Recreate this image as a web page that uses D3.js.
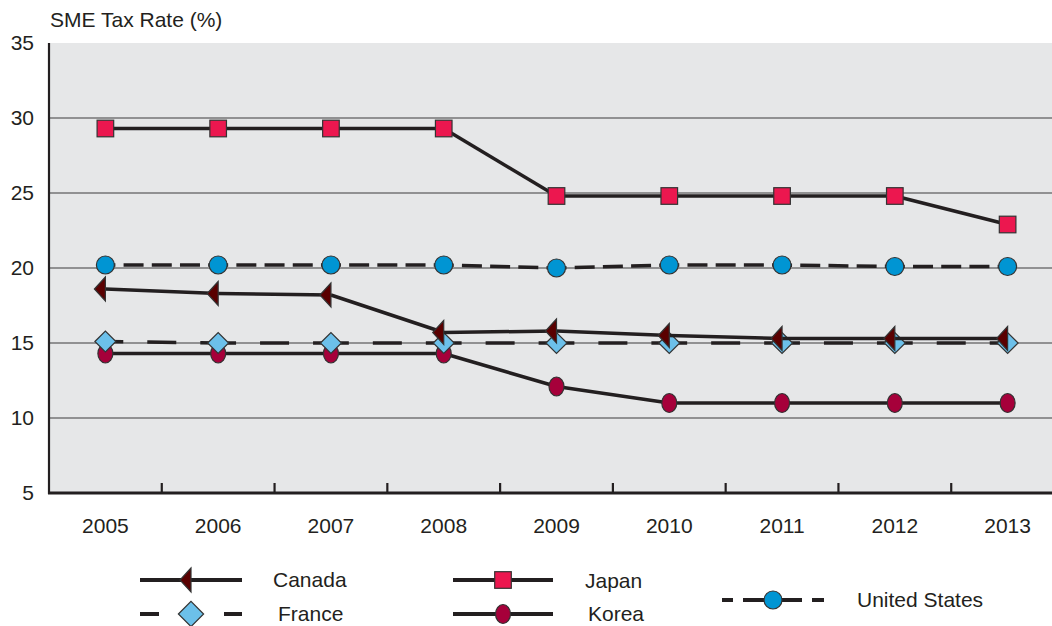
<!DOCTYPE html>
<html>
<head>
<meta charset="utf-8">
<script src="https://cdn.jsdelivr.net/npm/d3@7"></script>
<style>
  html, body { margin: 0; padding: 0; background: #ffffff; }
  svg { display: block; font-family: "Liberation Sans", Arial, sans-serif; }
</style>
</head>
<body>
<svg id="chart" width="1052" height="626"></svg>
<script>
// Small-business (SME) corporate tax rates, per cent
const years = ["2005", "2006", "2007", "2008", "2009", "2010", "2011", "2012", "2013"];
const canada = [18.6, 18.3, 18.2, 15.7, 15.8, 15.5, 15.3, 15.3, 15.3];
const france = [15.1, 15.0, 15.0, 15.0, 15.0, 15.0, 15.0, 15.0, 15.0];
const japan = [29.3, 29.3, 29.3, 29.3, 24.8, 24.8, 24.8, 24.8, 22.9];
const korea = [14.3, 14.3, 14.3, 14.3, 12.1, 11.0, 11.0, 11.0, 11.0];
const unitedStates = [20.2, 20.2, 20.2, 20.2, 20.0, 20.2, 20.2, 20.1, 20.1];
const yTicks = [5, 10, 15, 20, 25, 30, 35];
const gridValues = [10, 15, 20, 25, 30];
const yTitle = "SME Tax Rate (%)";

const INK = "#231f20";
const EDGE = "#333333";
const FONT_SIZE = 21;

const series = [
  { name: "United States", values: unitedStates, dash: [20, 8.2], shape: "circle", fill: "#0095d3" },
  { name: "Japan", values: japan, dash: null, shape: "square", fill: "#ec174f" },
  { name: "Korea", values: korea, dash: null, shape: "ellipse", fill: "#a6003a" },
  { name: "France", values: france, dash: [29, 24], shape: "diamond", fill: "#6cc0ea" },
  { name: "Canada", values: canada, dash: null, shape: "triangle", fill: "#5a0000" }
];

const svg = d3.select("#chart");
const plot = { left: 49, top: 43, right: 1052, bottom: 493 };

const x = d3.scaleBand().domain(years).range([49, 1064]).padding(0);
const y = d3.scaleLinear().domain([5, 35]).range([plot.bottom, plot.top]);
const cx = d => x(d) + x.bandwidth() / 2;

// plot background
svg.append("rect")
  .attr("x", plot.left).attr("y", plot.top)
  .attr("width", plot.right - plot.left).attr("height", plot.bottom - plot.top)
  .attr("fill", "#e6e7e8");

// horizontal gridlines
svg.append("g").selectAll("line").data(gridValues).join("line")
  .attr("x1", plot.left).attr("x2", plot.right)
  .attr("y1", d => y(d)).attr("y2", d => y(d))
  .attr("stroke", "#3c3c3c").attr("stroke-width", 1.1);

// y axis (labels only, line drawn below)
const yAxis = d3.axisLeft(y).tickValues(yTicks).tickSize(0).tickPadding(15).tickFormat(d3.format("d"));
const gy = svg.append("g").attr("transform", `translate(${plot.left},0)`).call(yAxis);
gy.select(".domain").remove();
gy.selectAll("text").attr("font-size", FONT_SIZE).attr("fill", INK)
  .attr("font-family", "Liberation Sans, Arial, sans-serif");

// x axis: labels centred in bands, ticks at band boundaries pointing up
const xAxis = d3.axisBottom(x).tickSize(0).tickPadding(25);
const gx = svg.append("g").attr("transform", `translate(0,${plot.bottom})`).call(xAxis);
gx.select(".domain").remove();
gx.selectAll("text").attr("font-size", FONT_SIZE).attr("fill", INK)
  .attr("font-family", "Liberation Sans, Arial, sans-serif");

svg.append("g").selectAll("line").data(years.slice(1)).join("line")
  .attr("x1", d => x(d)).attr("x2", d => x(d))
  .attr("y1", plot.bottom).attr("y2", plot.bottom - 10)
  .attr("stroke", INK).attr("stroke-width", 2.2);

svg.append("line")
  .attr("x1", plot.left).attr("x2", plot.left)
  .attr("y1", plot.top).attr("y2", plot.bottom + 1)
  .attr("stroke", INK).attr("stroke-width", 2.2);
svg.append("line")
  .attr("x1", plot.left - 1).attr("x2", plot.right)
  .attr("y1", plot.bottom).attr("y2", plot.bottom)
  .attr("stroke", INK).attr("stroke-width", 3);

// y title
svg.append("text").attr("x", 50).attr("y", 27)
  .attr("font-size", FONT_SIZE).attr("fill", INK).text(yTitle);

// marker drawing
function drawMarker(g, shape, px, py, fill, scale) {
  const s = scale || 1;
  let el;
  if (shape === "circle") {
    el = g.append("circle").attr("cx", px).attr("cy", py).attr("r", 9 * s);
  } else if (shape === "square") {
    const h = 8.3 * s;
    el = g.append("rect").attr("x", px - h).attr("y", py - h).attr("width", 2 * h).attr("height", 2 * h);
  } else if (shape === "ellipse") {
    el = g.append("ellipse").attr("cx", px).attr("cy", py).attr("rx", 7.5 * s).attr("ry", 9.5 * s);
  } else if (shape === "diamond") {
    const w = 10.5 * s, h = 10.5 * s;
    el = g.append("path").attr("d", `M${px - w},${py}L${px},${py - h}L${px + w},${py}L${px},${py + h}Z`);
  } else if (shape === "triangle") {
    const w = 11 * s, h = 12 * s;
    el = g.append("path").attr("d", `M${px},${py - h}L${px - w},${py}L${px},${py + h}Z`);
  }
  el.attr("fill", fill).attr("stroke", EDGE).attr("stroke-width", 1.2);
  return el;
}

// each series: connecting segments (dash pattern centred per segment) then markers
series.forEach(s => {
  const g = svg.append("g");
  const pts = years.map((yr, i) => [cx(yr), y(s.values[i])]);
  for (let i = 0; i < pts.length - 1; i++) {
    const [x1, y1] = pts[i], [x2, y2] = pts[i + 1];
    const seg = g.append("line")
      .attr("x1", x1).attr("y1", y1).attr("x2", x2).attr("y2", y2)
      .attr("stroke", INK).attr("stroke-width", 3.5).attr("stroke-linecap", "butt");
    if (s.dash) {
      const L = Math.hypot(x2 - x1, y2 - y1);
      const p = s.dash[0] + s.dash[1];
      const start = L / 2 - s.dash[0] / 2;
      const off = ((-start % p) + p) % p;
      seg.attr("stroke-dasharray", s.dash.join(",")).attr("stroke-dashoffset", off);
    }
  }
  pts.forEach(([px, py]) => drawMarker(g, s.shape, px, py, s.fill));
});

// legend
const legendItems = [
  { key: "Canada", x1: 140, x2: 242, mx: 191, y: 580, tx: 273, ty: 587, dash: null },
  { key: "France", x1: 140, x2: 242, mx: 191, y: 614, tx: 278, ty: 621, dash: "19,23" },
  { key: "Japan", x1: 453, x2: 553, mx: 503, y: 580, tx: 585, ty: 588, dash: null },
  { key: "Korea", x1: 453, x2: 553, mx: 503, y: 614, tx: 588, ty: 621, dash: null },
  { key: "United States", x1: 722, x2: 824, mx: 773, y: 600, tx: 857, ty: 607, dash: "11,10,59,10,12" }
];
const lg = svg.append("g");
legendItems.forEach(it => {
  const s = series.find(d => d.name === it.key);
  const ln = lg.append("line")
    .attr("x1", it.x1).attr("x2", it.x2).attr("y1", it.y).attr("y2", it.y)
    .attr("stroke", INK).attr("stroke-width", 4);
  if (it.dash) ln.attr("stroke-dasharray", it.dash);
  const sc = s.shape === "diamond" ? 1.2 : 1.0;
  drawMarker(lg, s.shape, it.mx, it.y, s.fill, sc);
  lg.append("text").attr("x", it.tx).attr("y", it.ty)
    .attr("font-size", FONT_SIZE).attr("fill", INK).text(it.key);
});
</script>
</body>
</html>
